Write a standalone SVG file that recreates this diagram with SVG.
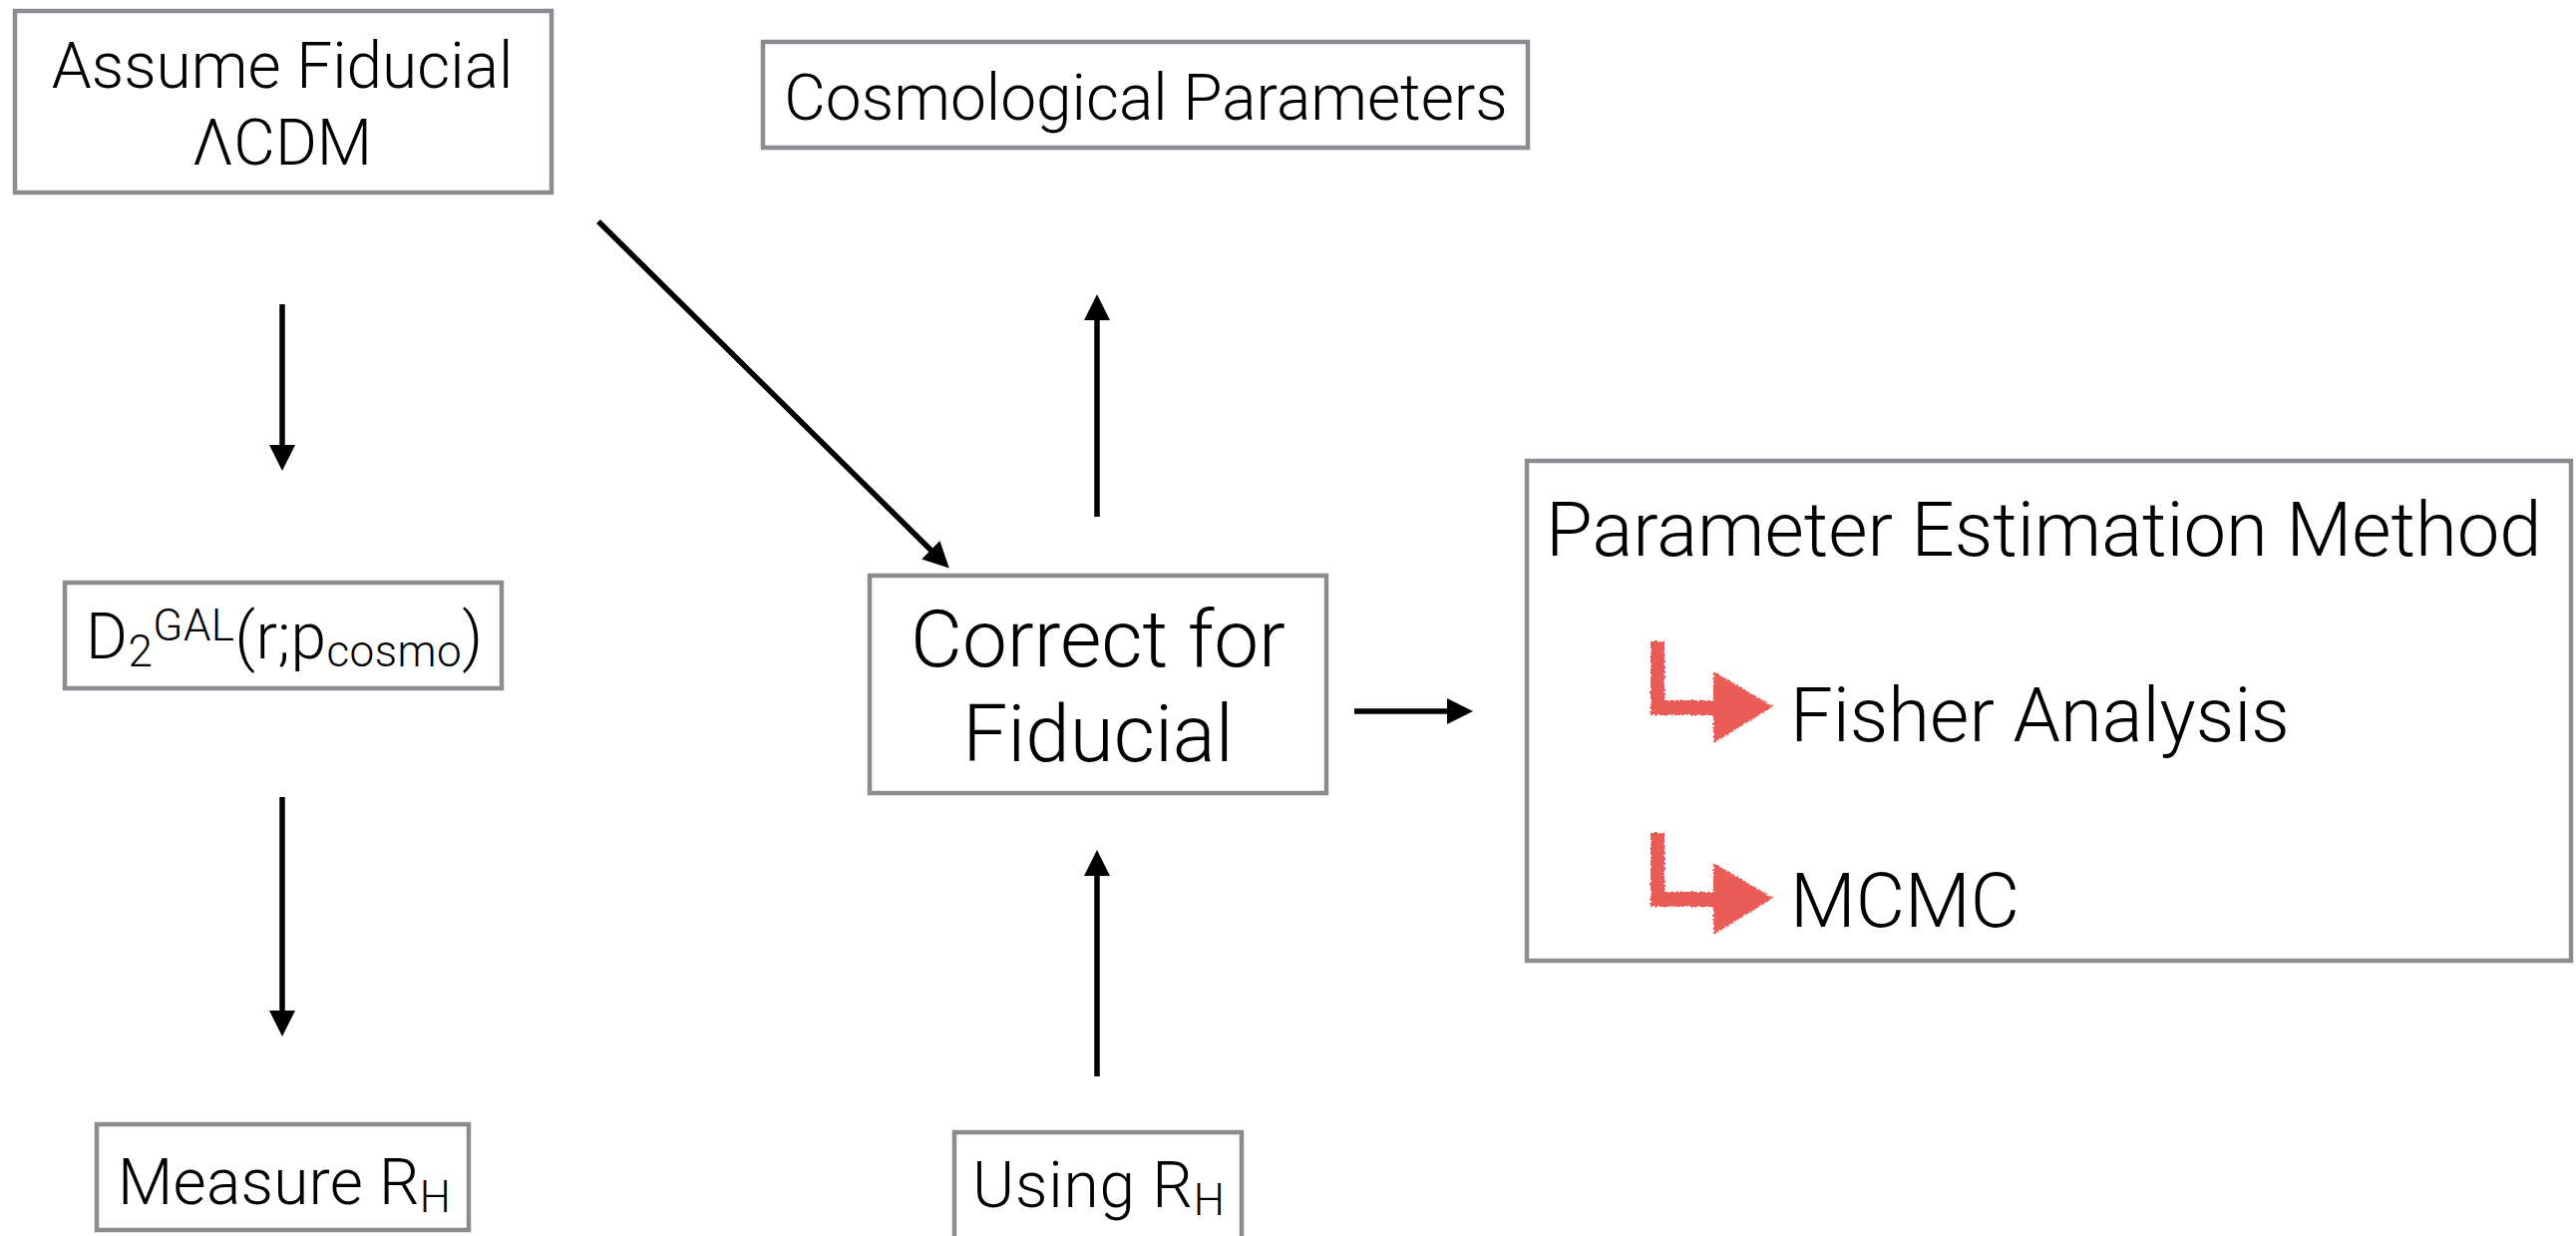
<svg xmlns="http://www.w3.org/2000/svg" width="2583" height="1239" viewBox="0 0 2583 1239">
  <defs>
    <style>
      .box { fill: #ffffff; stroke: #8a8c90; stroke-width: 4.5; }
      .lbl { font-family: Roboto, "Liberation Sans", Arial, sans-serif; font-weight: 300; fill: #000000; }
      .conn { stroke: #000000; stroke-width: 5.5; fill: none; }
      .red { fill: #ea5b55; }
    </style>
    <marker id="head" markerUnits="userSpaceOnUse" markerWidth="26" markerHeight="26" refX="1" refY="13" orient="auto" viewBox="0 0 26 26">
      <path d="M0,0 L26,13 L0,26 Z" fill="#000000"/>
    </marker>
    <filter id="rough" x="-10%" y="-10%" width="120%" height="120%">
      <feTurbulence type="fractalNoise" baseFrequency="0.55" numOctaves="2" seed="4" result="n"/>
      <feDisplacementMap in="SourceGraphic" in2="n" scale="4" xChannelSelector="R" yChannelSelector="G"/>
    </filter>
    <g id="redarrow" class="red" filter="url(#rough)">
      <path d="M1655,643 L1669,643 L1669,702 L1722,702 L1722,717 L1655,717 Z"/>
      <path d="M1718,673 L1778,708 L1718,745 Z"/>
    </g>
  </defs>

  <rect width="2583" height="1239" fill="#ffffff"/>

  <g id="connectors">
    <line class="conn" x1="283" y1="305" x2="283" y2="447" marker-end="url(#head)"/>
    <line class="conn" x1="283" y1="799" x2="283" y2="1014" marker-end="url(#head)"/>
    <line class="conn" x1="600" y1="222" x2="934" y2="552" marker-end="url(#head)"/>
    <line class="conn" x1="1100" y1="518" x2="1100" y2="320" marker-end="url(#head)"/>
    <line class="conn" x1="1100" y1="1079" x2="1100" y2="877" marker-end="url(#head)"/>
    <line class="conn" x1="1358" y1="713" x2="1452" y2="713" marker-end="url(#head)"/>
  </g>

  <g id="node-assume">
    <rect class="box" x="15" y="11" width="538" height="182"/>
    <text class="lbl" x="283" y="88" font-size="64" text-anchor="middle">Assume Fiducial</text>
    <text class="lbl" x="283" y="165" font-size="64" text-anchor="middle">ΛCDM</text>
  </g>

  <g id="node-cosmo">
    <rect class="box" x="765" y="42" width="767" height="106"/>
    <text class="lbl" x="1149" y="120" font-size="64" text-anchor="middle">Cosmological Parameters</text>
  </g>

  <g id="node-d2">
    <rect class="box" x="65" y="584" width="438" height="106"/>
    <text class="lbl" x="86" y="660" font-size="64" textLength="398" lengthAdjust="spacing">D<tspan font-size="44" dy="8">2</tspan><tspan font-size="44" dy="-26">GAL</tspan><tspan dy="18">(r;p</tspan><tspan font-size="44" dy="8">cosmo</tspan><tspan dy="-8">)</tspan></text>
  </g>

  <g id="node-correct">
    <rect class="box" x="872" y="577" width="458" height="218"/>
    <text class="lbl" x="1101" y="668" font-size="80" text-anchor="middle">Correct for</text>
    <text class="lbl" x="1101" y="763" font-size="80" text-anchor="middle">Fiducial</text>
  </g>

  <g id="node-method">
    <rect class="box" x="1531" y="462" width="1047" height="501"/>
    <text class="lbl" x="1550" y="557" font-size="76">Parameter Estimation Method</text>
    <use href="#redarrow"/>
    <use href="#redarrow" transform="translate(0,192)"/>
    <text class="lbl" x="1795" y="743" font-size="76">Fisher Analysis</text>
    <text class="lbl" x="1795" y="929" font-size="76">MCMC</text>
  </g>

  <g id="node-measure">
    <rect class="box" x="97" y="1127" width="373" height="106"/>
    <text class="lbl" x="118" y="1207" font-size="64" textLength="334" lengthAdjust="spacing">Measure R<tspan font-size="44" dy="8">H</tspan></text>
  </g>

  <g id="node-using">
    <rect class="box" x="957" y="1135" width="288" height="110"/>
    <text class="lbl" x="975" y="1210" font-size="64" textLength="253" lengthAdjust="spacing">Using R<tspan font-size="44" dy="8">H</tspan></text>
  </g>
</svg>
